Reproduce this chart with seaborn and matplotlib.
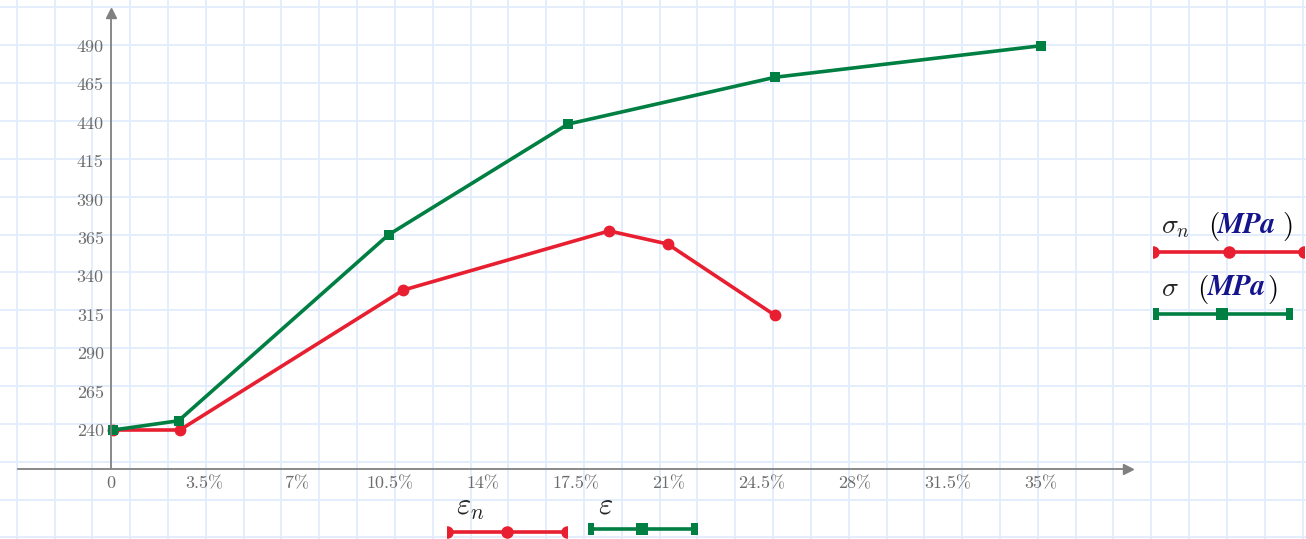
import numpy as np
import matplotlib
matplotlib.use("Agg")
import matplotlib.pyplot as plt
import seaborn as sns

# --- values ---
eps_n = [0.1, 2.6, 11.0, 18.75, 20.95, 25.0]        # nominal strain, %
sigma_n = [240, 240, 331, 369.5, 361, 314.5]        # nominal stress, MPa
eps = [0.1, 2.55, 10.45, 17.2, 25.0, 35.0]          # true strain, %
sigma = [240, 246, 367, 439, 469.5, 490]            # true stress, MPa

x_ticks = [-3.5, 0, 3.5, 7, 10.5, 14, 17.5, 21, 24.5, 28, 31.5, 35]
x_tick_labels = ["", "0", "3.5%", "7%", "10.5%", "14%", "17.5%", "21%",
                 "24.5%", "28%", "31.5%", "35%"]
y_ticks = [240, 265, 290, 315, 340, 365, 390, 415, 440, 465, 490]

RED = "#e81f30"
GREEN = "#007f43"
NAVY = "#14148c"
AXIS = "#808080"
LABEL = "#6c6c6c"
GRID = "#e0ecfb"
W, H = 1306, 539

sns.set_style("white")
plt.rcParams.update({
    "mathtext.fontset": "cm",
    "axes.unicode_minus": False,
})

fig = plt.figure(figsize=(W / 100, H / 100), dpi=100)

# --- grid paper background ---
bg = fig.add_axes([0, 0, 1, 1], zorder=0)
bg.set_xlim(0, W)
bg.set_ylim(H, 0)
bg.axis("off")
for gx in np.arange(16.7, W, 37.82):
    bg.axvline(gx, color=GRID, lw=1.3)
for gy in np.arange(7.3, H, 37.87):
    bg.axhline(gy, color=GRID, lw=1.3)

# --- main plot ---
ax = fig.add_axes([17.7 / W, 1 - 468.5 / H, (1128 - 17.7) / W, (468.5 - 12.5) / H], zorder=1)
ax.patch.set_alpha(0)

# spines first: set_position resets the ticks
for side in ["top", "right"]:
    ax.spines[side].set_visible(False)
ax.spines["left"].set_position(("data", 0))
for side in ["left", "bottom"]:
    ax.spines[side].set_color(AXIS)
    ax.spines[side].set_linewidth(1.3)

sns.lineplot(x=eps_n, y=sigma_n, ax=ax, color=RED, lw=2.6, marker="o", ms=8.5,
             mec=RED, mew=0, estimator=None, sort=False)
sns.lineplot(x=eps, y=sigma, ax=ax, color=GREEN, lw=2.6, marker="s", ms=7.5,
             mec=GREEN, mew=0, estimator=None, sort=False)

ax.set_xlim(-3.5, 38.27)
ax.set_ylim(214.95, 511.6)

ax.set_xticks(x_ticks)
ax.set_xticklabels(x_tick_labels, fontfamily="cmr10")
ax.set_yticks(y_ticks)
ax.set_yticklabels([str(v) for v in y_ticks], fontfamily="cmr10")
ax.tick_params(direction="inout", length=8, width=1.1, color=AXIS,
               labelcolor=LABEL, labelsize=13)
ax.tick_params(axis="x", pad=1.5)
ax.tick_params(axis="y", pad=1)

# arrow heads
ax.plot(1, 0, ">", color=AXIS, ms=7, transform=ax.transAxes, clip_on=False)
ax.plot(0, 1, "^", color=AXIS, ms=7, transform=ax.get_xaxis_transform(), clip_on=False)


# --- Mathcad style legend pieces ---
def legend_sample(x0, x1, yc, color, marker, ms):
    lax = fig.add_axes([x0 / W, 1 - (yc + 8) / H, (x1 - x0) / W, 16 / H], zorder=2)
    lax.set_xlim(0, 1)
    lax.set_ylim(-1, 1)
    lax.axis("off")
    lax.plot([0, 0.5, 1], [0, 0, 0], color=color, lw=2.6, marker=marker, ms=ms, mew=0)


def txt(x, y, s, **kw):
    fig.text(x / W, 1 - y / H, s, ha="left", va="baseline", **kw)


legend_sample(1153, 1304, 251.7, RED, "o", 9)
legend_sample(1153, 1291.6, 314.3, GREEN, "s", 8)
legend_sample(446.7, 566.7, 531.7, RED, "o", 9)
legend_sample(587.7, 696.7, 528.7, GREEN, "s", 8)

mpa = dict(family="STIXGeneral", style="italic", weight="bold", size=21, color=NAVY)
par = dict(family="cmr10", size=21, color="black")

txt(1161, 233, r"$\sigma_n$", size=20)
txt(1208, 234, "(", **par)
txt(1218, 233, "MPa", **mpa)
txt(1282, 234, ")", **par)

txt(1161, 296, r"$\sigma$", size=20)
txt(1197, 297, "(", **par)
txt(1208, 295, "MPa", **mpa)
txt(1267, 297, ")", **par)

txt(456, 515, r"$\varepsilon_n$", size=22)
txt(598, 513, r"$\varepsilon$", size=22)

fig.savefig("out.png", dpi=100)
